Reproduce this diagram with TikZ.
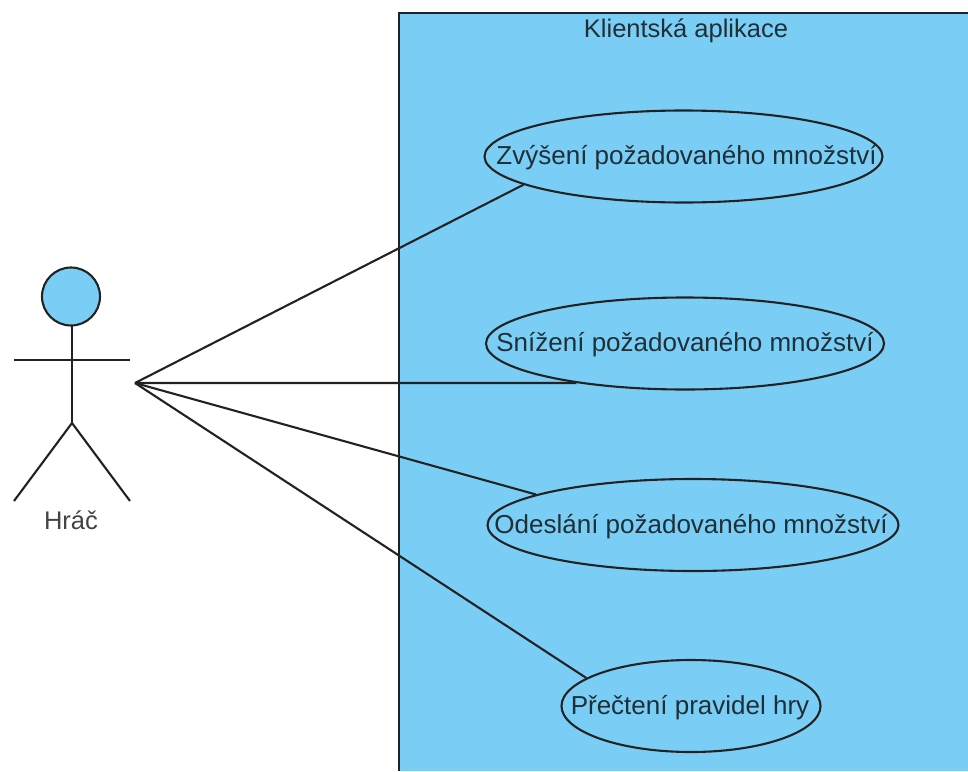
\documentclass[tikz,border=0pt]{standalone}
\usepackage{fontspec}
\setmainfont{Liberation Sans}
\usetikzlibrary{shapes.geometric}
\definecolor{sysblue}{HTML}{7ACEF5}
\definecolor{inktext}{HTML}{1F2F38}
\definecolor{ink}{HTML}{222222}
\newcommand{\casetext}[2]{\makebox[0pt]{\kern#1pt\raisebox{-8pt}[0pt][0pt]{#2}}}
\tikzset{
  line/.style={draw=ink,line width=2.1pt},
  usecase/.style={draw=ink,line width=2.1pt,ellipse,inner sep=0pt,text=inktext,font=\fontsize{26}{28}\selectfont},
  label/.style={inner sep=0pt,font=\fontsize{25.5}{28}\selectfont},
}
\begin{document}
\begin{tikzpicture}[x=1pt,y=-1pt]
\useasboundingbox (0,0) rectangle (968,771);
\fill[white] (0,0) rectangle (968,771);
\fill[sysblue] (399,13) rectangle (968,771);
\draw[line] (399,771) -- (399,13) -- (968,13);
\node[label,text=inktext] (sys) at (686,31) {Klientská aplikace};
% actor
\node[circle,draw=ink,line width=2.1pt,fill=sysblue,minimum size=58pt,inner sep=0pt] (head) at (71,296.5) {};
\coordinate (hip) at (72,423);
\coordinate (neck) at (72,326);
\coordinate (handL) at (14,360);
\coordinate (handR) at (130,360);
\coordinate (footL) at (14,501);
\coordinate (footR) at (130,501);
\coordinate (actor) at (135,383);
\draw[line] (neck) -- (hip);
\draw[line] (handL) -- (handR);
\draw[line] (footL) -- (hip) -- (footR);
\node[label,text=ink!85] (hrac) at (71,520) {Hráč};
% use cases
\node[usecase,minimum width=398pt,minimum height=92pt] (e1) at (683.5,156.5) {\casetext{6}{Zvýšení požadovaného množství}};
\node[usecase,minimum width=398pt,minimum height=92pt] (e2) at (685,343.5) {\casetext{0}{Snížení požadovaného množství}};
\node[usecase,minimum width=411pt,minimum height=92pt] (e3) at (693,525) {\casetext{-4}{Odeslání požadovaného množství}};
\node[usecase,minimum width=259pt,minimum height=92pt] (e4) at (691,706) {\casetext{-2}{Přečtení pravidel hry}};
% connectors
\draw[line] (actor) -- (e1.190.2);
\draw[line] (actor) -- (e2.200.1);
\draw[line] (actor) -- (e3.169.5);
\draw[line] (actor) -- (e4.165);
\end{tikzpicture}
\end{document}
